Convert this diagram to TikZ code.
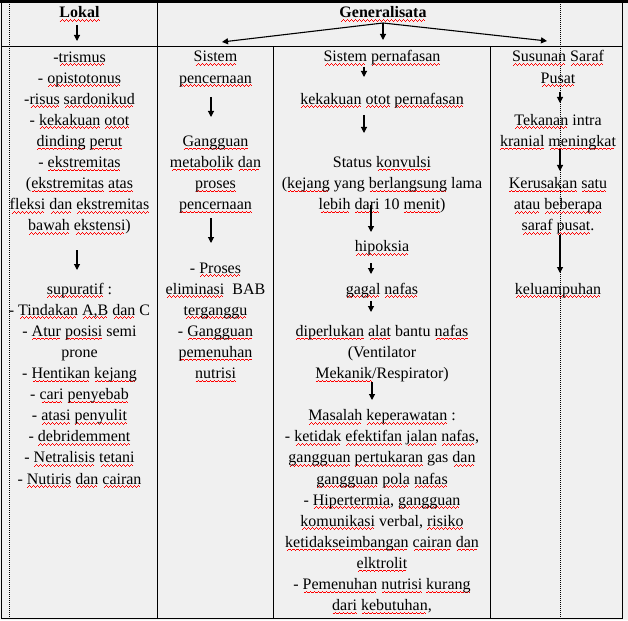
\documentclass[tikz,border=0pt]{standalone}
\usepackage{fontspec}
\setmainfont{Liberation Serif}
\usetikzlibrary{arrows.meta}
\usetikzlibrary{calc}

% red spell-check wave under a word
\newcommand\wavebit{\hbox{\rule[-3.6pt]{1pt}{0.8pt}\rule[-2.8pt]{1pt}{0.8pt}\rule[-2pt]{1pt}{0.8pt}\rule[-2.8pt]{1pt}{0.8pt}}}
\newcommand\sq[1]{\leavevmode\setbox0\hbox{#1}\rlap{\color{red}\hbox to \wd0{\cleaders\wavebit\hfil}}\box0\relax}

\definecolor{cellgray}{HTML}{F0F0F0}

\begin{document}
\begin{tikzpicture}[x=1pt, y=-1pt,
  txt/.style={align=center, inner sep=0pt, anchor=base, font=\fontsize{16}{21.1}\selectfont},
  head/.style={txt, font=\fontsize{16}{21.1}\selectfont\bfseries},
  rule/.style={line width=1pt},
  dots/.style={line width=1pt, dash pattern=on 1pt off 1pt},
  arr/.style={line width=1.1pt, -{Triangle[length=6pt, width=6pt]}}]

        % Page and background
        \useasboundingbox (0,0) rectangle (628,620);
        \fill[cellgray] (0,0) rectangle (628,620);
        \fill[black] (0,0) rectangle (628,3.5);

        % Table rules
        \draw[rule] (1.5,3) -- (1.5,618.5) -- (622.5,618.5) -- (622.5,3);
        \draw[rule] (1.5,47) -- (622.5,47);
        \draw[rule] (157,3) -- (157,618.5);
        \foreach \x in {273.5, 490} {
          \draw[rule] (\x,47) -- (\x,618.5);
        }
        \foreach \x in {9.5, 560} {
          \draw[dots] (\x,4) -- (\x,618);
        }

        % Header row
        \node[head] (lokal) at (79.5,18) {\sq{Lokal}};
        \node[head] (gen) at (383,18) {\sq{Generalisata}};

        % Lokal column (nodes sit on the baseline of their last line)
        \node[txt] (L1a) at (79.5,230.8) {-\sq{trismus}\\- \sq{opistotonus}\\-\sq{risus} \sq{sardonikud}\\- \sq{kekakuan} \sq{otot}\\\sq{dinding} \sq{perut}\\- \sq{ekstremitas}\\(\sq{ekstremitas} \sq{atas}\\\sq{fleksi} \sq{dan} \sq{ekstremitas}\\\sq{bawah} \sq{ekstensi})};
        \node[txt] (L1b) at (79.5,484) {\sq{supuratif} :\\- \sq{Tindakan} \sq{A,B} \sq{dan} C\\- \sq{Atur} \sq{posisi} semi\\prone\\- \sq{Hentikan} \sq{kejang}\\- \sq{cari} \sq{penyebab}\\- \sq{atasi} \sq{penyulit}\\- \sq{debridemment}\\- \sq{Netralisis} \sq{tetani}\\- \sq{Nutiris} \sq{dan} \sq{cairan}};

        % Sistem pencernaan column
        \node[txt] (S2a) at (215.5,83.1) {\sq{Sistem}\\\sq{pencernaan}};
        \node[txt] (S2b) at (215.5,209.7) {\sq{Gangguan}\\\sq{metabolik} \sq{dan}\\\sq{proses}\\\sq{pencernaan}};
        \node[txt] (S2c) at (215.5,378.5) {- \sq{Proses}\\\sq{eliminasi}\ \ BAB\\\sq{terganggu}\\- \sq{Gangguan}\\\sq{pemenuhan}\\\sq{nutrisi}};

        % Sistem pernafasan column
        \node[txt] (S3a) at (382,62) {\sq{Sistem} \sq{pernafasan}};
        \node[txt] (S3b) at (382,104.2) {\sq{kekakuan} \sq{otot} \sq{pernafasan}};
        \node[txt] (S3c) at (382,209.7) {Status \sq{konvulsi}\\(\sq{kejang} yang \sq{berlangsung} lama\\\sq{lebih} \sq{dari} 10 \sq{menit})};
        \node[txt] (S3d) at (382,251.9) {\sq{hipoksia}};
        \node[txt] (S3e) at (382,294.1) {\sq{gagal} \sq{nafas}};
        \node[txt] (S3f) at (382,378.5) {\sq{diperlukan} \sq{alat} bantu \sq{nafas}\\(Ventilator\\\sq{Mekanik}/Respirator)};
        \node[txt] (S3g) at (382,610.6) {\sq{Masalah} \sq{keperawatan} :\\- \sq{ketidak} \sq{efektifan} \sq{jalan} \sq{nafas},\\\sq{gangguan} \sq{pertukaran} gas \sq{dan}\\\sq{gangguan} \sq{pola} \sq{nafas}\\- \sq{Hipertermia}, \sq{gangguan}\\\sq{komunikasi} verbal, \sq{risiko}\\\sq{ketidakseimbangan} \sq{cairan} \sq{dan}\\\sq{elktrolit}\\- \sq{Pemenuhan} \sq{nutrisi} \sq{kurang}\\\sq{dari} \sq{kebutuhan},};

        % Susunan saraf pusat column
        \node[txt] (S4a) at (558,83.1) {\sq{Susunan} \sq{Saraf}\\\sq{Pusat}};
        \node[txt] (S4b) at (558,146.4) {\sq{Tekanan} intra\\\sq{kranial} \sq{meningkat}};
        \node[txt] (S4c) at (558,230.8) {\sq{Kerusakan} \sq{satu}\\\sq{atau} \sq{beberapa}\\\sq{saraf} \sq{pusat}.};
        \node[txt] (S4d) at (558,294.1) {\sq{keluampuhan}};

        % Header arrows
        \draw[arr] ($(lokal.base)+(-2.5,7)$) -- ($(L1a.base)+(-2.5,-189.8)$);
        \draw[arr] ($(gen.base)+(0,5)$) -- ($(S2a.base)+(6.5,-41.1)$);
        \draw[arr] ($(gen.base)+(0,5)$) -- ($(S3a.base)+(1,-22)$);
        \draw[arr] ($(gen.base)+(0,5)$) -- ($(S4a.base)+(-11,-42.1)$);

        % Column arrows
        \draw[arr] ($(L1a.base)+(-2.5,19.2)$) -- ($(L1b.base)+(-2.5,-214)$);
        \draw[arr] ($(S2a.base)+(-4.5,13.9)$) -- ($(S2b.base)+(-4.5,-92.7)$);
        \draw[arr] ($(S2b.base)+(-4.5,8.3)$) -- ($(S2c.base)+(-4.5,-135.5)$);
        \draw[arr] ($(S3a.base)+(-18,5)$) -- ($(S3b.base)+(-18,-27.2)$);
        \draw[arr] ($(S3b.base)+(-18,10.8)$) -- ($(S3c.base)+(-18,-76.7)$);
        \draw[arr] ($(S3c.base)+(-11,-4.7)$) -- ($(S3d.base)+(-11,-19.9)$);
        \draw[arr] ($(S3d.base)+(-11,11.1)$) -- ($(S3e.base)+(-11,-20.1)$);
        \draw[arr] ($(S3e.base)+(-11,6.9)$) -- ($(S3f.base)+(-11,-66.5)$);
        \draw[arr] ($(S3f.base)+(-10,3.5)$) -- ($(S3g.base)+(-10,-210.6)$);
        \draw[arr] ($(S4a.base)+(2,8.9)$) -- ($(S4b.base)+(2,-43.4)$);
        \draw[arr] ($(S4b.base)+(2,2.6)$) -- ($(S4c.base)+(2,-59.8)$);
        \draw[arr] ($(S4c.base)+(2,4.2)$) -- ($(S4d.base)+(2,-21.1)$);

      \end{tikzpicture}
\end{document}
